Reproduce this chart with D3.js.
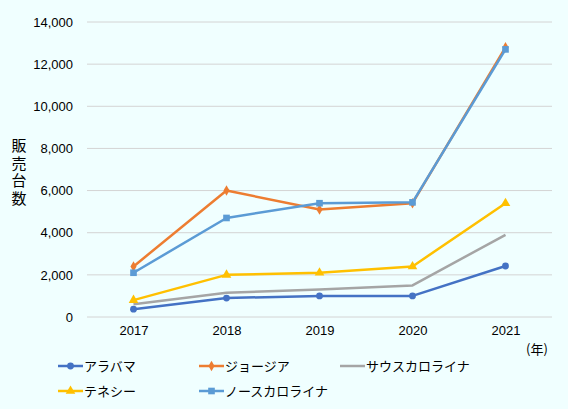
<!DOCTYPE html>
<html>
<head>
<meta charset="utf-8">
<script src="https://cdn.jsdelivr.net/npm/d3@7"></script>
<style>
  html, body { margin: 0; padding: 0; background: #f0ffff; }
  svg { display: block; font-family: "Noto Sans CJK JP", "Noto Sans", sans-serif; }
</style>
</head>
<body>
<svg id="chart" width="568" height="409"></svg>
<script>
// 年ごとの販売台数
const years = ["2017", "2018", "2019", "2020", "2021"];
const yTicks = [0, 2000, 4000, 6000, 8000, 10000, 12000, 14000];

const alabama = [370, 900, 1000, 1000, 2420];
const georgia = [2400, 6000, 5100, 5400, 12800];
const southCarolina = [600, 1150, 1300, 1500, 3900];
const tennessee = [800, 2000, 2100, 2400, 5400];
const northCarolina = [2100, 4700, 5400, 5440, 12700];

const seriesNames = ["アラバマ", "ジョージア", "サウスカロライナ", "テネシー", "ノースカロライナ"];

// 描画順は凡例とは別 (ノースカロライナが上)
const series = [
  {name: seriesNames[0], values: alabama, color: "#4472c4", marker: "circle"},
  {name: seriesNames[2], values: southCarolina, color: "#a5a5a5", marker: null},
  {name: seriesNames[3], values: tennessee, color: "#ffc000", marker: "triangle"},
  {name: seriesNames[1], values: georgia, color: "#ed7d31", marker: "diamond"},
  {name: seriesNames[4], values: northCarolina, color: "#5b9bd5", marker: "square"}
];

const svg = d3.select("#chart");
const plotL = 87, plotR = 552, plotT = 22, plotB = 317;

const x = d3.scalePoint().domain(years).range([plotL, plotR]).padding(0.5);
const y = d3.scaleLinear().domain([0, 14000]).range([plotB, plotT]);

// グリッド線
svg.append("g")
  .selectAll("line")
  .data(yTicks)
  .join("line")
  .attr("x1", plotL).attr("x2", plotR)
  .attr("y1", d => y(d)).attr("y2", d => y(d))
  .attr("stroke", "#d4d4d4").attr("stroke-width", 1);

// y軸
const yAxis = svg.append("g")
  .attr("transform", `translate(${plotL},0)`)
  .call(d3.axisLeft(y).tickValues(yTicks).tickSize(0).tickPadding(14).tickFormat(d3.format(",")));
yAxis.select(".domain").remove();
yAxis.selectAll("text").attr("font-size", 13).attr("fill", "#000");

// x軸
const xAxis = svg.append("g")
  .attr("transform", `translate(0,${plotB})`)
  .call(d3.axisBottom(x).tickSize(0).tickPadding(9));
xAxis.select(".domain").remove();
xAxis.selectAll("text").attr("font-size", 13).attr("fill", "#000");

svg.append("text")
  .attr("x", 537).attr("y", 354)
  .attr("text-anchor", "middle")
  .attr("font-size", 13)
  .text("(年)");

// 縦書きの軸タイトル
svg.append("text")
  .attr("x", 19)
  .attr("y", 138)
  .style("writing-mode", "vertical-rl")
  .style("text-orientation", "upright")
  .style("letter-spacing", "2.5px")
  .attr("font-size", 15)
  .text("販売台数");

const line = d3.line()
  .x((d, i) => x(years[i]))
  .y(d => y(d));

const symbolOf = {
  circle: d3.symbol(d3.symbolCircle, 36),
  triangle: d3.symbol(d3.symbolTriangle, 40),
  diamond: d3.symbol(d3.symbolDiamond, 32),
  square: d3.symbol(d3.symbolSquare, 44)
};

series.forEach(s => {
  svg.append("path")
    .datum(s.values)
    .attr("d", line)
    .attr("fill", "none")
    .attr("stroke", s.color)
    .attr("stroke-width", 2.5)
    .attr("stroke-linejoin", "round");
  if (s.marker) {
    svg.append("g")
      .selectAll("path")
      .data(s.values)
      .join("path")
      .attr("transform", (d, i) => `translate(${x(years[i])},${y(d)})`)
      .attr("d", symbolOf[s.marker]())
      .attr("fill", s.color);
  }
});

// 凡例
const legendItems = [
  {name: seriesNames[0], color: "#4472c4", marker: "circle", lx: 58, ly: 366},
  {name: seriesNames[1], color: "#ed7d31", marker: "diamond", lx: 199, ly: 366},
  {name: seriesNames[2], color: "#a5a5a5", marker: null, lx: 340, ly: 366},
  {name: seriesNames[3], color: "#ffc000", marker: "triangle", lx: 58, ly: 391},
  {name: seriesNames[4], color: "#5b9bd5", marker: "square", lx: 199, ly: 391}
];

const legend = svg.append("g")
  .selectAll("g")
  .data(legendItems)
  .join("g")
  .attr("transform", d => `translate(${d.lx},${d.ly})`);

legend.append("line")
  .attr("x1", 0).attr("x2", 25)
  .attr("stroke", d => d.color)
  .attr("stroke-width", 2.5);

legend.filter(d => d.marker)
  .append("path")
  .attr("transform", "translate(12.5,0)")
  .attr("d", d => symbolOf[d.marker]())
  .attr("fill", d => d.color);

legend.append("text")
  .attr("x", 26).attr("y", 0)
  .attr("dy", "0.35em")
  .attr("font-size", 13)
  .text(d => d.name);
</script>
</body>
</html>
